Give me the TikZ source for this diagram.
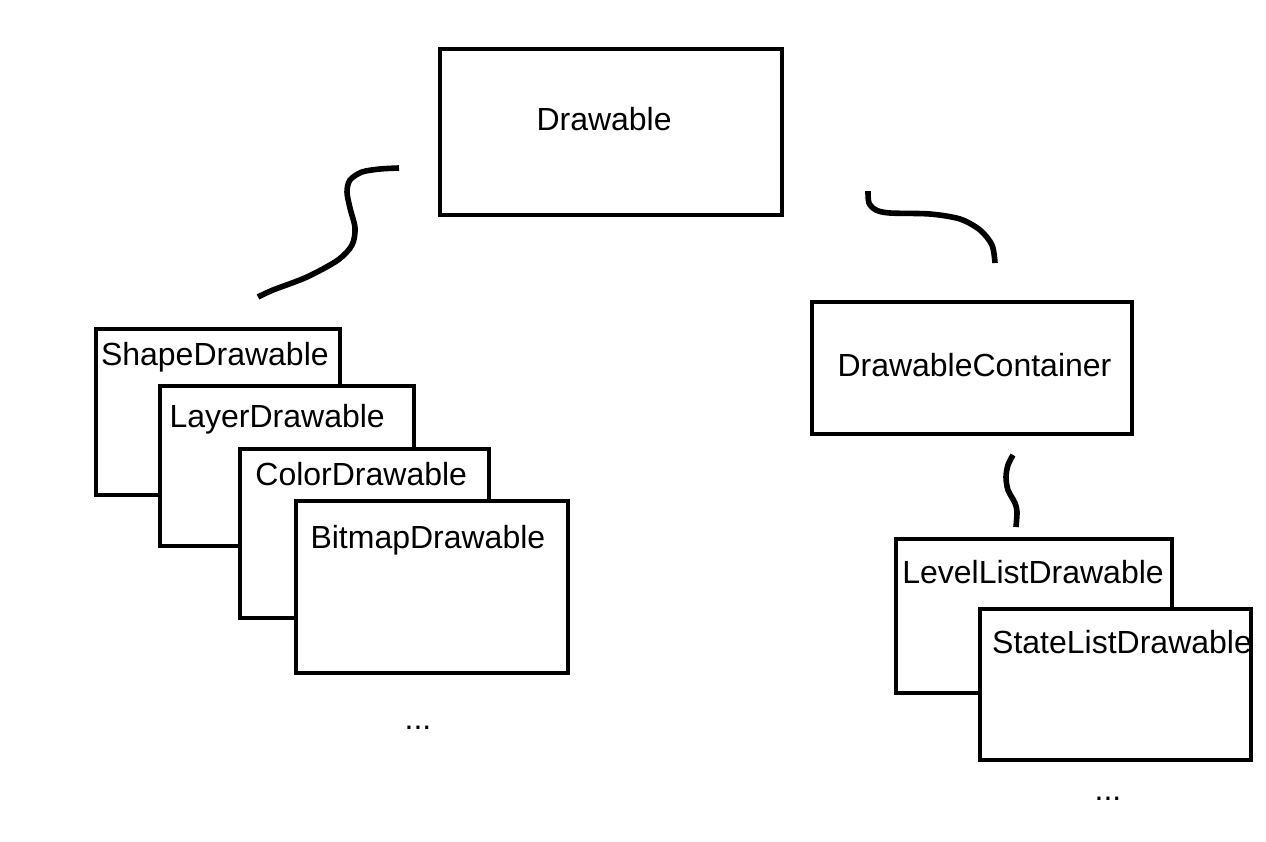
\documentclass[tikz,border=0pt]{standalone}
\usepackage{fontspec}
\setmainfont{Liberation Sans}
\usetikzlibrary{positioning}

\begin{document}
\begin{tikzpicture}[x=0.5pt,y=-0.5pt,line width=2pt,
                    card/.style={draw,fill=white,rectangle,inner sep=0pt,outer sep=0pt,anchor=north west},
                    txt/.style={inner sep=0pt,anchor=base west,font=\fontsize{16}{19}\selectfont},
                    squiggle/.style={line width=2.8pt}]

        \useasboundingbox (0,0) rectangle (1266,842);

        % top
        \node[card,minimum width=171pt,minimum height=83pt] (drawable) at (440,49) {};
        \node[txt] (drawable-t) at ([shift={(94.5,81)}]drawable.north west) {Drawable};

        % left stack
        \node[card,minimum width=122pt,minimum height=83.25pt] (shape) at (95.5,328.5) {};
        \node[txt] (shape-t) at ([shift={(3.5,36.5)}]shape.north west) {ShapeDrawable};
        \node[card,minimum width=126.75pt,minimum height=79.75pt] (layer)
                [below right=28.75pt and 32.25pt of shape.north west] {};
        \node[txt] (layer-t) at ([shift={(7.6,41)}]layer.north west) {LayerDrawable};
        \node[card,minimum width=124.5pt,minimum height=84.5pt] (color)
                [below right=31.25pt and 40pt of layer.north west] {};
        \node[txt] (color-t) at ([shift={(13.4,36.5)}]color.north west) {ColorDrawable};
        \node[card,minimum width=136pt,minimum height=86pt] (bitmap)
                [below right=26pt and 27.75pt of color.north west] {};
        \node[txt] (bitmap-t) at ([shift={(13,47.5)}]bitmap.north west) {BitmapDrawable};
        \node[txt,anchor=base] (more-l) at (418,729) {...};

        % right stack
        \node[card,minimum width=160pt,minimum height=66pt] (container) at (812,302) {};
        \node[txt] (container-t) at ([shift={(23.5,74)}]container.north west) {DrawableContainer};
        \node[card,minimum width=138pt,minimum height=77.25pt] (levellist) at (895.5,538.5) {};
        \node[txt] (levellist-t) at ([shift={(4.8,44.5)}]levellist.north west) {LevelListDrawable};
        \node[card,minimum width=135.5pt,minimum height=75.75pt] (statelist)
                [below right=35pt and 42.25pt of levellist.north west] {};
        \node[txt] (statelist-t) at ([shift={(10.2,44.5)}]statelist.north west) {StateListDrawable};
        \node[txt,anchor=base] (more-r) at (1108,800) {...};

        % squiggles
        \draw[squiggle] plot[smooth] coordinates {(399,168) (380,169) (362,172) (350,180) (347,192)
                (350,208) (355,228) (352,245) (338,260) (307,277) (273,290) (258,297)};
        \draw[squiggle] plot[smooth] coordinates {(868,191) (869,203) (876,210) (890,213) (930,214)
                (960,219) (980,230) (992,245) (995,263)};
        \draw[squiggle] plot[smooth] coordinates {(1013,455) (1008,465) (1006,477) (1008,490)
                (1015,503) (1017,512) (1016,527)};
    \end{tikzpicture}
\end{document}
